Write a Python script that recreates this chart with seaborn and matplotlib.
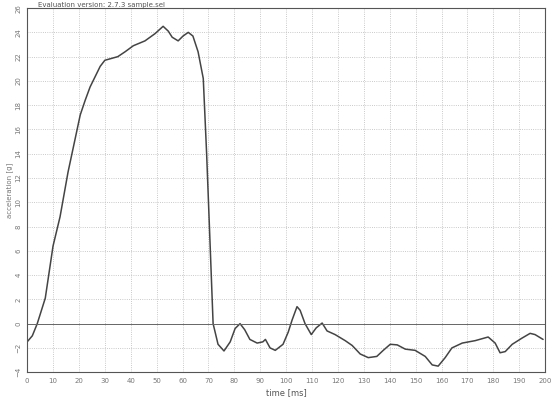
import numpy as np
import pandas as pd
import matplotlib
matplotlib.use("Agg")
import matplotlib.pyplot as plt
import seaborn as sns

# acceleration trace
time_ms = [0, 2, 3.9, 7, 10, 12.7, 15.8, 19.3, 20.5, 22.4, 24.3, 28.2, 30, 35,
           37.8, 41, 45.5, 49.4, 52.5, 54.5, 56, 58.3, 60.2, 62.2, 64, 66, 68,
           69.3, 70.7, 71.8, 73.7, 76, 78.4, 80.3, 82.2, 84, 86, 88.8, 91, 92,
           93.8, 95.8, 98.8, 100.8, 102.3, 104.2, 105.4, 107.3, 109.7, 111.6,
           113.9, 115.8, 118.9, 122.8, 125.5, 128.6, 131.7, 135, 137.5, 140.2,
           142.9, 146, 149.8, 153.7, 156.4, 158.7, 161.4, 164, 168, 173, 178,
           180.7, 182.6, 184.6, 187.3, 191, 194.2, 196.1, 199.2]
accel_g = [-1.5, -1.0, 0.0, 2.1, 6.4, 8.8, 12.5, 16.0, 17.2, 18.4, 19.5, 21.2,
           21.7, 22.0, 22.4, 22.9, 23.3, 23.9, 24.5, 24.1, 23.6, 23.3, 23.7,
           24.0, 23.7, 22.4, 20.2, 14.0, 6.2, 0.0, -1.7, -2.25, -1.5, -0.4, 0.0,
           -0.5, -1.3, -1.6, -1.5, -1.3, -2.0, -2.2, -1.7, -0.7, 0.3, 1.4, 1.1,
           0.0, -0.9, -0.35, 0.05, -0.6, -0.9, -1.4, -1.8, -2.5, -2.8, -2.7,
           -2.2, -1.7, -1.75, -2.1, -2.2, -2.7, -3.4, -3.5, -2.8, -2.0, -1.6,
           -1.4, -1.1, -1.6, -2.4, -2.3, -1.7, -1.2, -0.8, -0.9, -1.3]

x_ticks = list(range(0, 201, 10))
y_ticks = list(range(-4, 27, 2))

df = pd.DataFrame({"time": time_ms, "accel": accel_g})

sns.set_style("whitegrid", {"grid.linestyle": ":", "grid.color": "#b8b8b8",
                            "axes.edgecolor": "#555555"})
plt.rcParams["font.family"] = ["DejaVu Sans"]

fig = plt.figure(figsize=(5.54, 4.05), dpi=100)
ax = fig.add_axes([0.049, 0.081, 0.935, 0.899])

sns.lineplot(data=df, x="time", y="accel", ax=ax, color="#444444",
             linewidth=1.1, estimator=None, sort=False)
ax.axhline(0, color="#666666", linewidth=0.7)

ax.set_xlim(0, 200)
ax.set_ylim(-4, 26)
ax.set_xticks(x_ticks)
ax.set_yticks(y_ticks)
ax.tick_params(axis="both", labelsize=5, colors="#777777", length=2, pad=2)
for lbl in ax.get_yticklabels():
    lbl.set_rotation(90)
    lbl.set_va("center")
ax.grid(True, linewidth=0.6)

ax.set_xlabel("time [ms]", fontsize=6, color="#555555", labelpad=3)
ax.set_ylabel("acceleration [g]", fontsize=5, color="#777777", labelpad=2)
ax.set_title("Evaluation version: 2.7.3 sample.sel", loc="left", fontsize=5,
             color="#555555", pad=1, x=0.02)

fig.savefig("out.png", dpi=100)
